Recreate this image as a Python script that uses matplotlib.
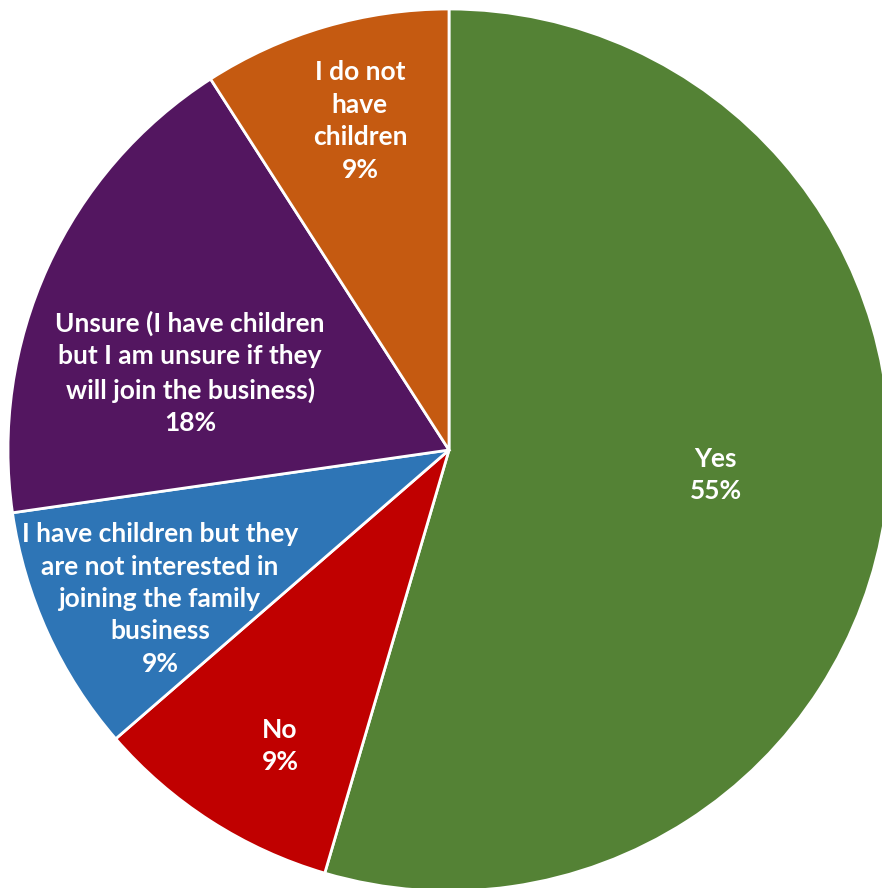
import matplotlib.pyplot as plt

labels = ['Yes', 'No',
          'I have children but they\nare not interested in\njoining the family\nbusiness',
          'Unsure (I have children\nbut I am unsure if they\nwill join the business)',
          'I do not\nhave\nchildren']
counts = [6, 1, 1, 2, 1]
colors = ['#548235', '#C00000', '#2E75B6', '#531660', '#C55A11']
# label centres, in pie-radius units
label_xy = [(0.605, -0.057), (-0.383, -0.671), (-0.655, -0.338),
            (-0.587, 0.175), (-0.202, 0.746)]

plt.rcParams['font.family'] = ['Lato', 'DejaVu Sans']

fig = plt.figure(figsize=(8.82, 8.88), dpi=100)
ax = fig.add_axes([0, 0, 1, 1])
R = 441
wedges, _ = ax.pie(counts, colors=colors, startangle=90, counterclock=False,
                   wedgeprops=dict(edgecolor='white', linewidth=2))
pct = [round(c / sum(counts) * 100) for c in counts]
for lab, p, (x, y) in zip(labels, pct, label_xy):
    ax.text(x, y, f'{lab}\n{p}%', ha='center', va='center',
            color='white', fontsize=19, fontweight='bold', linespacing=1.42)
ax.set_xlim(-449 / R, (882 - 449) / R)
ax.set_ylim(-438 / R, 450 / R)
ax.set_aspect('auto')
ax.axis('off')
fig.savefig('out.png', dpi=100)
